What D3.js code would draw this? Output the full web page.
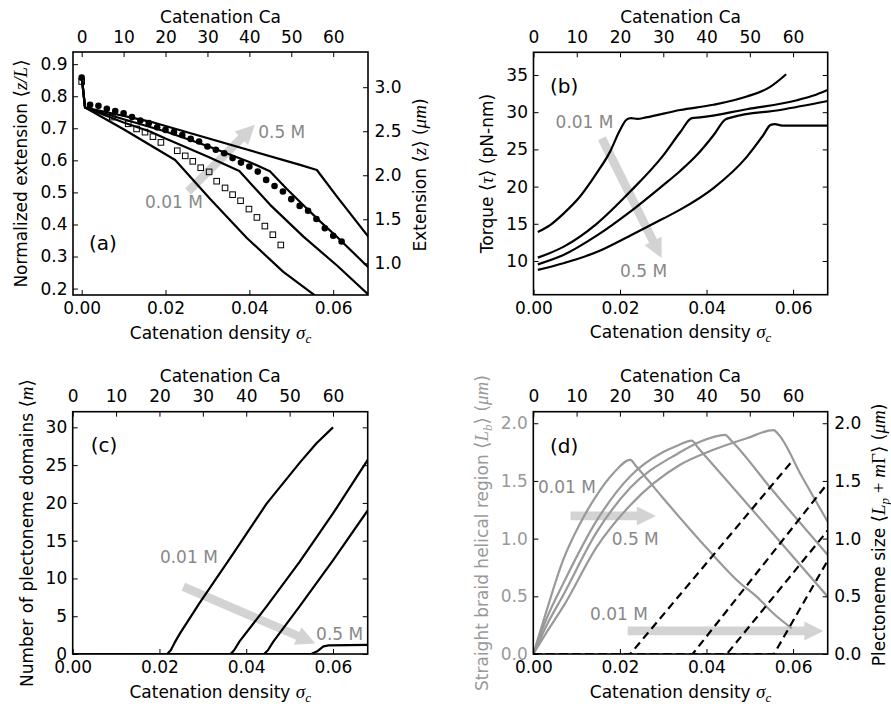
<!DOCTYPE html>
<html>
<head>
<meta charset="utf-8">
<script src="https://cdn.jsdelivr.net/npm/d3@7"></script>
<style>
  body { margin: 0; background: #fff; }
</style>
</head>
<body>
<script>
// ---- shared ticks ----
const sigmaTicks = [0, 0.02, 0.04, 0.06];
const caTicks = [0, 10, 20, 30, 40, 50, 60];
const caPerSigma = 1000;

// ---- (a) extension vs catenation density ----
const extTicksLeft = [0.2, 0.3, 0.4, 0.5, 0.6, 0.7, 0.8, 0.9];
const extTicksRight = [1.0, 1.5, 2.0, 2.5, 3.0];
const extSalt1 = [[0, 0.862], [0.0008, 0.765], [0.010, 0.697], [0.0163, 0.648], [0.0223, 0.601], [0.0306, 0.480], [0.0394, 0.358], [0.0481, 0.252], [0.0557, 0.178], [0.058, 0.158]];
const extSalt2 = [[0, 0.862], [0.0008, 0.765], [0.010, 0.718], [0.0163, 0.690], [0.020, 0.668], [0.030, 0.612], [0.0376, 0.567], [0.0449, 0.462], [0.0529, 0.362], [0.0609, 0.272], [0.0685, 0.18]];
const extSalt3 = [[0, 0.862], [0.0008, 0.765], [0.010, 0.728], [0.020, 0.690], [0.030, 0.645], [0.040, 0.595], [0.0449, 0.566], [0.049, 0.510], [0.0529, 0.460], [0.057, 0.408], [0.061, 0.360], [0.0685, 0.265]];
const extSalt4 = [[0, 0.862], [0.0008, 0.765], [0.0163, 0.721], [0.0521, 0.586], [0.0561, 0.570], [0.0609, 0.487], [0.0685, 0.36]];
const extCircles = [[0, 0.858], [0.002, 0.773], [0.004, 0.770], [0.006, 0.761], [0.008, 0.754], [0.010, 0.747], [0.012, 0.735], [0.014, 0.724], [0.016, 0.716], [0.018, 0.703], [0.020, 0.695], [0.022, 0.688], [0.024, 0.679], [0.026, 0.667], [0.028, 0.659], [0.030, 0.643], [0.032, 0.633], [0.034, 0.622], [0.036, 0.607], [0.038, 0.593], [0.040, 0.581], [0.042, 0.565], [0.044, 0.539], [0.046, 0.520], [0.048, 0.503], [0.050, 0.479], [0.052, 0.458], [0.054, 0.443], [0.056, 0.417], [0.058, 0.388], [0.060, 0.365], [0.062, 0.347]];
const extSquares = [[0, 0.846], [0.0073, 0.735], [0.0111, 0.714], [0.0131, 0.698], [0.0151, 0.688], [0.0170, 0.674], [0.0189, 0.656], [0.0228, 0.630], [0.0247, 0.614], [0.0265, 0.597], [0.0284, 0.577], [0.0304, 0.564], [0.0322, 0.535], [0.0342, 0.514], [0.0360, 0.493], [0.0379, 0.474], [0.0399, 0.448], [0.0418, 0.422], [0.0437, 0.395], [0.0456, 0.368], [0.0475, 0.336]];

// ---- (b) torque ----
const torqueTicks = [10, 15, 20, 25, 30, 35];
const torque1 = [[0.001, 13.9], [0.004, 14.9], [0.007, 16.4], [0.0108, 18.7], [0.0146, 21.8], [0.0177, 24.7], [0.020, 27.6], [0.0215, 29.0], [0.0225, 29.2], [0.024, 29.1], [0.026, 29.3], [0.0339, 30.3], [0.0416, 31.0], [0.0493, 32.1], [0.0547, 33.4], [0.0584, 35.1]];
const torque2 = [[0.001, 10.45], [0.0069, 11.9], [0.0146, 15.0], [0.0223, 19.3], [0.030, 24.2], [0.0339, 27.3], [0.0366, 29.2], [0.0385, 29.3], [0.0493, 30.4], [0.0609, 31.6], [0.0645, 32.2], [0.068, 33.0]];
const torque3 = [[0.001, 9.55], [0.0069, 10.8], [0.0146, 13.4], [0.0223, 16.6], [0.030, 20.2], [0.0339, 22.1], [0.0377, 24.2], [0.0416, 26.9], [0.0443, 29.0], [0.0458, 29.3], [0.057, 30.3], [0.068, 31.5]];
const torque4 = [[0.001, 8.8], [0.0069, 9.7], [0.0146, 11.2], [0.0223, 13.4], [0.030, 15.7], [0.0339, 16.9], [0.0416, 19.8], [0.0493, 24.0], [0.0531, 26.9], [0.0548, 28.3], [0.0558, 28.4], [0.0575, 28.2], [0.068, 28.2]];

// ---- (c) number of plectoneme domains ----
const domainTicks = [0, 5, 10, 15, 20, 25, 30];
const plecNum1 = [[0, 0], [0.0218, 0], [0.0226, 0.5], [0.0235, 1.5], [0.0247, 2.7], [0.0293, 6.8], [0.037, 13.3], [0.0447, 19.9], [0.0523, 25.3], [0.0562, 27.9], [0.060, 30.0]];
const plecNum2 = [[0, 0], [0.0364, 0], [0.0372, 0.5], [0.0385, 1.7], [0.0447, 6.3], [0.0523, 12.2], [0.060, 18.6], [0.068, 25.7]];
const plecNum3 = [[0, 0], [0.0441, 0], [0.0450, 0.5], [0.0462, 1.6], [0.0523, 6.3], [0.060, 12.4], [0.068, 19.0]];
const plecNum4 = [[0, 0], [0.0550, 0], [0.0565, 0.4], [0.0578, 1.0], [0.059, 1.15], [0.068, 1.2]];

// ---- (d) braid length and plectoneme size ----
const lengthTicks = [0, 0.5, 1.0, 1.5, 2.0];
const braid1 = [[0, 0], [0.0031, 0.38], [0.0069, 0.815], [0.0108, 1.13], [0.0147, 1.38], [0.0185, 1.567], [0.0224, 1.683], [0.0238, 1.625], [0.030, 1.35], [0.040, 0.92], [0.0478, 0.613], [0.0516, 0.497], [0.0554, 0.353], [0.0597, 0.223]];
const braid2 = [[0, 0], [0.0031, 0.31], [0.0069, 0.61], [0.0147, 1.16], [0.0224, 1.54], [0.030, 1.75], [0.0335, 1.81], [0.0366, 1.85], [0.038, 1.79], [0.045, 1.49], [0.055, 1.06], [0.068, 0.497]];
const braid3 = [[0, 0], [0.0031, 0.25], [0.0069, 0.51], [0.0147, 1.06], [0.0224, 1.44], [0.0335, 1.74], [0.0385, 1.84], [0.0443, 1.90], [0.0457, 1.85], [0.055, 1.43], [0.068, 0.859]];
const braid4 = [[0, 0], [0.0031, 0.19], [0.0069, 0.41], [0.0147, 0.93], [0.0224, 1.29], [0.0339, 1.64], [0.0416, 1.77], [0.0493, 1.87], [0.0555, 1.94], [0.0567, 1.90], [0.062, 1.54], [0.068, 1.147]];
const plecSize1 = [[0, 0], [0.0224, 0], [0.0597, 1.668]];
const plecSize2 = [[0, 0], [0.0368, 0], [0.068, 1.48]];
const plecSize3 = [[0, 0], [0.0447, 0], [0.068, 1.07]];
const plecSize4 = [[0, 0], [0.0556, 0], [0.068, 0.81]];

// ---- annotations (data units: tail x, tail y, tip x, tip y) ----
const arrowA = [0.0254, 0.503, 0.0413, 0.711];
const arrowB = [0.0158, 26.5, 0.0296, 10.4];
const arrowC = [0.0255, 8.9, 0.0559, 1.4];
const arrowD1 = [0.0086, 1.197, 0.0283, 1.197];
const arrowD2 = [0.0218, 0.2, 0.067, 0.2];
const notesA = [["0.5 M", 0.0421, 0.669], ["0.01 M", 0.0151, 0.451]];
const notesB = [["0.01 M", 0.0051, 27.9], ["0.5 M", 0.020, 7.9]];
const notesC = [["0.01 M", 0.0201, 12.1], ["0.5 M", 0.0561, 1.85]];
const notesD = [["0.01 M", 0.0011, 1.394], ["0.5 M", 0.0181, 0.945], ["0.01 M", 0.0131, 0.295]];

const W = 891, H = 709;
const FONT = "'DejaVu Sans', sans-serif";
const MATH = "'Liberation Serif', 'DejaVu Serif', serif";
const GRAY_TEXT = "#888";
const GRAY_LINE = "#999";
const ARROW = "#d3d3d3";

let svg = d3.select("body").append("svg")
    .attr("width", W)
    .attr("height", H)
    .style("font-family", FONT);

// text with math pieces: [string, kind] kind: n normal, i italic serif, r roman serif, s subscript
function rich(t, parts) {
    let sub = false;
    parts.forEach(([s, k]) => {
        const ts = t.append("tspan").text(s);
        if (k !== "n") ts.attr("font-family", MATH).attr("font-size", 19);
        if (k === "i" || k === "s") ts.attr("font-style", "italic");
        if (k === "s") {
            ts.attr("font-size", 13).attr("dy", sub ? 0 : 4);
            sub = true;
        } else if (sub) {
            ts.attr("dy", -4);
            sub = false;
        }
    });
    return t;
}

function hLabel(x, y, parts, color) {
    const t = svg.append("text")
        .attr("x", x).attr("y", y)
        .attr("text-anchor", "middle")
        .attr("font-size", 17)
        .attr("fill", color || "#000");
    return rich(t, parts);
}

function vLabel(x, y, parts, color) {
    const t = svg.append("text")
        .attr("transform", `translate(${x},${y}) rotate(-90)`)
        .attr("text-anchor", "middle")
        .attr("font-size", 17)
        .attr("fill", color || "#000");
    return rich(t, parts);
}

function styleAxis(g, color) {
    g.attr("font-size", null).attr("font-family", null);
    g.select(".domain").remove();
    g.selectAll(".tick line").attr("stroke", "#000").attr("stroke-width", 1);
    g.selectAll(".tick text").attr("fill", color).attr("font-size", 17).attr("font-family", FONT);
}

function addPanel(cfg) {
    const b = cfg.box;
    const g = svg.append("g");
    const x = d3.scaleLinear().domain(cfg.xDomain).range([b.x0, b.x1]);
    const y = d3.scaleLinear().domain(cfg.yDomain).range([b.y1, b.y0]);
    const xTop = d3.scaleLinear().domain(cfg.xDomain.map(v => v * caPerSigma)).range([b.x0, b.x1]);
    const y2 = d3.scaleLinear().domain(cfg.y2Domain || cfg.yDomain).range([b.y1, b.y0]);

    g.append("clipPath").attr("id", "clip-" + cfg.id)
        .append("rect")
        .attr("x", b.x0).attr("y", b.y0)
        .attr("width", b.x1 - b.x0).attr("height", b.y1 - b.y0);

    const plot = g.append("g").attr("clip-path", `url(#clip-${cfg.id})`);

    // bottom: catenation density
    g.append("g").attr("transform", `translate(0,${b.y1})`)
        .call(d3.axisBottom(x).tickValues(sigmaTicks).tickFormat(d3.format(".2f"))
            .tickSizeInner(-5).tickSizeOuter(0).tickPadding(7.4))
        .call(a => styleAxis(a, "#000"));
    // top: catenation Ca
    g.append("g").attr("transform", `translate(0,${b.y0})`)
        .call(d3.axisTop(xTop).tickValues(caTicks).tickFormat(d3.format("d"))
            .tickSizeInner(-5).tickSizeOuter(0).tickPadding(9.5))
        .call(a => styleAxis(a, "#000"));
    // left
    g.append("g").attr("transform", `translate(${b.x0},0)`)
        .call(d3.axisLeft(y).tickValues(cfg.yTicks).tickFormat(cfg.yFmt)
            .tickSizeInner(-5).tickSizeOuter(0).tickPadding(5.5))
        .call(a => styleAxis(a, cfg.leftColor || "#000"));
    // right
    g.append("g").attr("transform", `translate(${b.x1},0)`)
        .call(d3.axisRight(y2).tickValues(cfg.y2Ticks || cfg.yTicks)
            .tickFormat(cfg.y2Ticks ? cfg.y2Fmt : () => "")
            .tickSizeInner(-5).tickSizeOuter(0).tickPadding(6.5))
        .call(a => styleAxis(a, "#000"));

    const frame = () => g.append("rect")
        .attr("x", b.x0).attr("y", b.y0)
        .attr("width", b.x1 - b.x0).attr("height", b.y1 - b.y0)
        .attr("fill", "none").attr("stroke", "#000").attr("stroke-width", 1.6);

    // top and bottom axis titles
    const cx = (b.x0 + b.x1) / 2;
    hLabel(cx, b.y0 - 29.5, [["Catenation Ca", "n"]]);
    hLabel(cx, b.y1 + 43.5, [["Catenation density ", "n"], ["σ", "i"], ["c", "s"]]);

    svg.append("text")
        .attr("x", b.x0 + cfg.tagDx).attr("y", cfg.tagY)
        .attr("font-size", 20)
        .text(cfg.tag);

    return { g, plot, x, y, y2, frame };
}

function arrow(p, sx, sy, a) {
    const x1 = sx(a[0]), y1 = sy(a[1]), x2 = sx(a[2]), y2 = sy(a[3]);
    const w = 4.3, hw = 9.5, hl = 19;
    const dx = x2 - x1, dy = y2 - y1, L = Math.hypot(dx, dy);
    const ux = dx / L, uy = dy / L, px = -uy, py = ux;
    const bx = x2 - ux * hl, by = y2 - uy * hl;
    const pts = [
        [x1 + px * w, y1 + py * w], [bx + px * w, by + py * w], [bx + px * hw, by + py * hw],
        [x2, y2],
        [bx - px * hw, by - py * hw], [bx - px * w, by - py * w], [x1 - px * w, y1 - py * w]
    ];
    p.append("polygon").attr("points", pts.map(q => q.join(",")).join(" ")).attr("fill", ARROW);
}

function notes(p, sx, sy, list) {
    list.forEach(([s, nx, ny]) => {
        p.append("text").attr("x", sx(nx)).attr("y", sy(ny))
            .attr("font-size", 17).attr("fill", GRAY_TEXT).text(s);
    });
}

function curve(p, gen, data, color, dash) {
    p.append("path").datum(data)
        .attr("d", gen)
        .attr("fill", "none")
        .attr("stroke", color)
        .attr("stroke-width", 2.2)
        .attr("stroke-dasharray", dash || null)
        .attr("stroke-linejoin", "round");
}

// ================= (a) =================
const pa = addPanel({
    id: "a", box: { x0: 73, x1: 368, y0: 52, y1: 295 },
    xDomain: [-0.00207, 0.0683], yDomain: [0.18, 0.938], y2Domain: [0.64, 3.40],
    yTicks: extTicksLeft, yFmt: d3.format(".1f"),
    y2Ticks: extTicksRight, y2Fmt: d3.format(".1f"),
    tag: "(a)", tagDx: 16, tagY: 250
});
arrow(pa.plot, pa.x, pa.y, arrowA);
const lineA = d3.line().x(d => pa.x(d[0])).y(d => pa.y(d[1]));
[extSalt1, extSalt2, extSalt3, extSalt4].forEach(s => curve(pa.plot, lineA, s, "#000"));
pa.plot.selectAll(".sq").data(extSquares).join("rect")
    .attr("x", d => pa.x(d[0]) - 2.8).attr("y", d => pa.y(d[1]) - 2.8)
    .attr("width", 5.6).attr("height", 5.6)
    .attr("fill", "none").attr("stroke", "#000").attr("stroke-width", 1);
pa.plot.selectAll(".ci").data(extCircles).join("circle")
    .attr("cx", d => pa.x(d[0])).attr("cy", d => pa.y(d[1]))
    .attr("r", 3.3).attr("fill", "#000");
notes(pa.plot, pa.x, pa.y, notesA);
pa.frame();
vLabel(26.5, 173.5, [["Normalized extension ", "n"], ["⟨", "r"], ["z/L", "i"], ["⟩", "r"]]);
vLabel(426, 175, [["Extension ", "n"], ["⟨", "r"], ["z", "i"], ["⟩", "r"], [" (", "n"], ["μm", "i"], [")", "n"]]);

// ================= (b) =================
const pb = addPanel({
    id: "b", box: { x0: 533.5, x1: 827.7, y0: 52.3, y1: 294.7 },
    xDomain: [0, 0.068], yDomain: [5.47, 38.05],
    yTicks: torqueTicks, yFmt: d3.format("d"),
    tag: "(b)", tagDx: 16.5, tagY: 93
});
arrow(pb.plot, pb.x, pb.y, arrowB);
const lineB = d3.line().x(d => pb.x(d[0])).y(d => pb.y(d[1])).curve(d3.curveMonotoneX);
[torque1, torque2, torque3, torque4].forEach(s => curve(pb.plot, lineB, s, "#000"));
notes(pb.plot, pb.x, pb.y, notesB);
pb.frame();
vLabel(492.5, 173.5, [["Torque ", "n"], ["⟨", "r"], ["τ", "i"], ["⟩", "r"], [" (pN-nm)", "n"]]);

// ================= (c) =================
const pc = addPanel({
    id: "c", box: { x0: 72.7, x1: 367.7, y0: 411.7, y1: 654 },
    xDomain: [0, 0.068], yDomain: [0, 32.07],
    yTicks: domainTicks, yFmt: d3.format("d"),
    tag: "(c)", tagDx: 18, tagY: 452
});
arrow(pc.plot, pc.x, pc.y, arrowC);
const lineC = d3.line().x(d => pc.x(d[0])).y(d => pc.y(d[1]));
[plecNum1, plecNum2, plecNum3, plecNum4].forEach(s => curve(pc.plot, lineC, s, "#000"));
notes(pc.plot, pc.x, pc.y, notesC);
pc.frame();
vLabel(32.5, 533, [["Number of plectoneme domains ", "n"], ["⟨", "r"], ["m", "i"], ["⟩", "r"]]);

// ================= (d) =================
const pd = addPanel({
    id: "d", box: { x0: 533.3, x1: 827.7, y0: 411.7, y1: 654 },
    xDomain: [0, 0.068], yDomain: [0, 2.10], y2Domain: [0, 2.10],
    yTicks: lengthTicks, yFmt: d3.format(".1f"),
    y2Ticks: lengthTicks, y2Fmt: d3.format(".1f"),
    leftColor: GRAY_LINE,
    tag: "(d)", tagDx: 16.7, tagY: 452.5
});
arrow(pd.plot, pd.x, pd.y, arrowD1);
arrow(pd.plot, pd.x, pd.y, arrowD2);
const lineD = d3.line().x(d => pd.x(d[0])).y(d => pd.y(d[1])).curve(d3.curveMonotoneX);
const lineD2 = d3.line().x(d => pd.x(d[0])).y(d => pd.y2(d[1]));
[braid1, braid2, braid3, braid4].forEach(s => curve(pd.plot, lineD, s, GRAY_LINE));
[plecSize1, plecSize2, plecSize3, plecSize4].forEach(s => curve(pd.plot, lineD2, s, "#000", "8,5"));
notes(pd.plot, pd.x, pd.y, notesD);
pd.frame();
vLabel(487.5, 533, [["Straight braid helical region ", "n"], ["⟨", "r"], ["L", "i"], ["b", "s"], ["⟩", "r"], [" (", "n"], ["μm", "i"], [")", "n"]], GRAY_LINE);
vLabel(885, 535, [["Plectoneme size ", "n"], ["⟨", "r"], ["L", "i"], ["p", "s"], [" + ", "r"], ["m", "i"], ["Γ", "r"], ["⟩", "r"], [" (", "n"], ["μm", "i"], [")", "n"]]);
</script>
</body>
</html>
